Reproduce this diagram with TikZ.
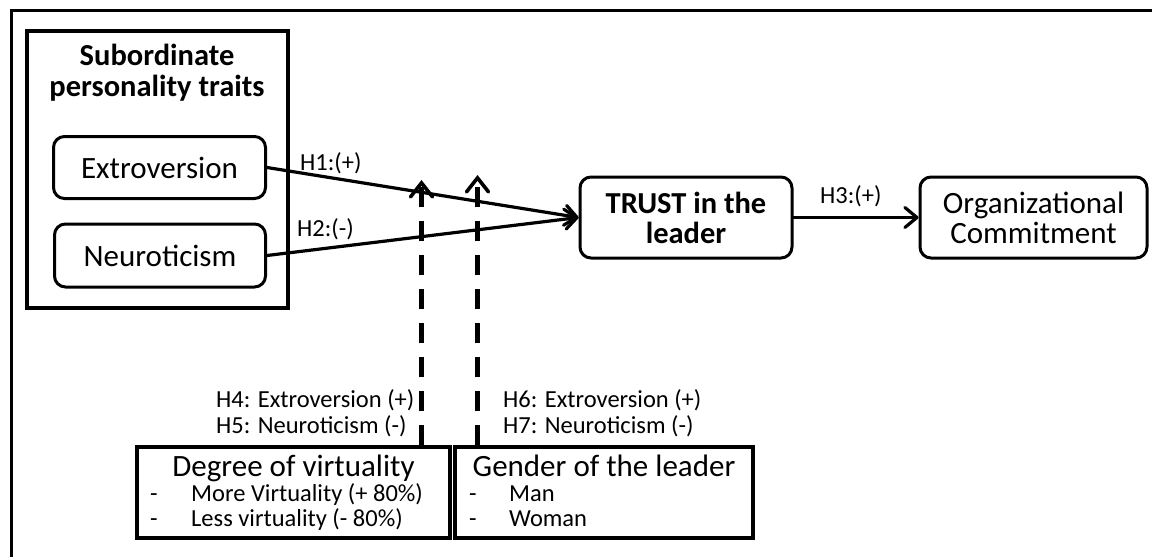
\documentclass[tikz,border=0pt]{standalone}
\usepackage{fontspec}
\setmainfont{Carlito}
\usetikzlibrary{arrows.meta,calc}
\begin{document}
\begin{tikzpicture}[x=1pt,y=-1pt,
  big/.style={font=\fontsize{31}{30}\selectfont},
  bigb/.style={font=\fontsize{30.5}{30}\selectfont\bfseries},
  small/.style={font=\fontsize{24.5}{27}\selectfont},
  rbox/.style={draw, line width=3pt, rounded corners=11pt, inner sep=0pt, align=center},
  sbox/.style={draw, line width=3.2pt, inner sep=0pt},
  link/.style={line width=3.2pt, line cap=round, -{Straight Barb[length=12pt,width=20pt,line cap=round,line join=round]}},
  modline/.style={line width=4.5pt, dash pattern=on 20pt off 14pt, -{Straight Barb[length=14pt,width=22pt,line width=3.6pt,line cap=round,line join=miter]}},
  lab/.style={small, inner sep=0pt, anchor=base west}
]
\useasboundingbox (0,0) rectangle (1152,557);
\fill[white] (0,0) rectangle (1152,557);
% outer frame (top and left)
\draw[line width=3.5pt, line join=miter] (11.5,560) -- (11.5,10.5) -- (1155,10.5);

% personality traits group
\node[sbox, minimum width=261pt, minimum height=277pt] (sub) at (157.5,169.5) {};
\node[bigb, inner sep=0pt, anchor=base] (t1) at (157,65) {Subordinate};
\node[bigb, inner sep=0pt, anchor=base] (t2) at (157,96) {personality traits};
\node[rbox, big, minimum width=212pt, minimum height=62pt] (ext) at (159.5,167.5) {Extroversion};
\node[rbox, big, minimum width=211pt, minimum height=63pt] (neu) at (160,255.5) {Neuroticism};

% trust and commitment
\node[rbox, bigb, minimum width=212pt, minimum height=81pt] (trust) at (686,217.5) {TRUST in the\\leader};
\node[rbox, big, minimum width=227pt, minimum height=81pt] (org) at (1033.5,217.5) {Organizational\\Commitment};

% moderators
\node[sbox, minimum width=313pt, minimum height=91pt] (deg) at (293.5,492.5) {};
\node[big, inner sep=0pt, anchor=base] (degt) at (293.5,476) {Degree of virtuality};
\node[lab] (d1m) at (150,501) {-};
\node[lab] (d1) at (191,501) {More Virtuality (+ 80\%)};
\node[lab] (d2m) at (150,526) {-};
\node[lab] (d2) at (191,526) {Less virtuality (- 80\%)};

\node[sbox, minimum width=298pt, minimum height=91pt] (gen) at (604,492.5) {};
\node[big, inner sep=0pt, anchor=base] (gent) at (604,476) {Gender of the leader};
\node[lab] (g1m) at (469,501) {-};
\node[lab] (g1) at (509,501) {Man};
\node[lab] (g2m) at (469,526) {-};
\node[lab] (g2) at (509,526) {Woman};

% connectors
\draw[link] (ext.east) -- (trust.west);
\draw[link] (neu.east) -- (trust.west);
\draw[link] (trust.east) -- (org.west);

\coordinate (m1) at (421.5,180);
\coordinate (m2) at (477.5,175);
\draw[modline] (m1 |- deg.north) -- (m1);
\draw[modline] (m2 |- gen.north) -- (m2);

% labels
\node[lab] (h1) at (300,170) {H1:(+)};
\node[lab] (h2) at (297,236) {H2:(-)};
\node[lab] (h3) at (820,203) {H3:(+)};
\node[lab] (h4) at (216,407) {H4: Extroversion (+)};
\node[lab] (h5) at (216,433) {H5: Neuroticism (-)};
\node[lab] (h6) at (503,407) {H6: Extroversion (+)};
\node[lab] (h7) at (503,433) {H7: Neuroticism (-)};
\end{tikzpicture}
\end{document}
